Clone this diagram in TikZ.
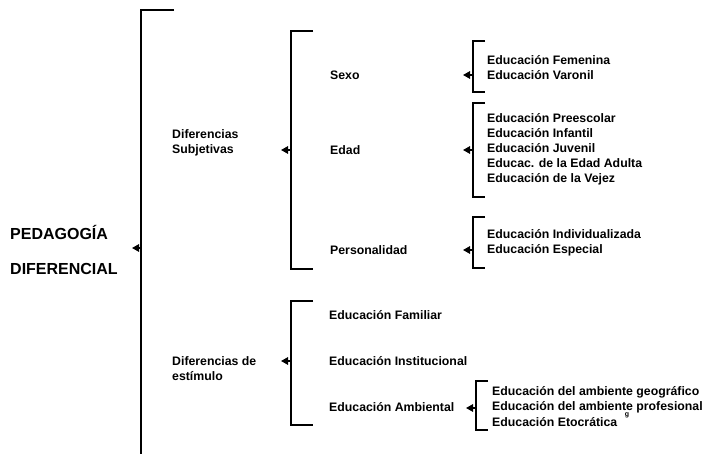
\documentclass[tikz,border=0pt]{standalone}
\usepackage{fontspec}
\setmainfont{Liberation Sans}
\usetikzlibrary{arrows.meta}

\begin{document}
\begin{tikzpicture}[x=1pt, y=-1pt,
    head/.style={anchor=west, inner sep=0pt, align=left, font=\fontsize{16}{35}\selectfont\bfseries},
    lbl/.style={anchor=west, inner sep=0pt, align=left, font=\fontsize{12.3}{15}\selectfont\bfseries},
    brace/.style={line width=1.3pt},
    tip/.style={-{Triangle[length=7pt, width=7.5pt]}, line width=1.3pt}
  ]
    \useasboundingbox (0,0) rectangle (709,454);

    % main title
    \node[head] (pd) at (10, 249.5) {PEDAGOG\'IA\\DIFERENCIAL};
    \draw[brace] (174, 10) -- (141, 10) -- (141, 454);
    \coordinate (pdb) at (141, 248);
    \draw[tip] (pdb) -- ++(-9, 0);

    % second level
    \node[lbl] (subj) at (172, 142.5) {Diferencias\\Subjetivas};
    \node[lbl] (estim) at (172, 368.5) {Diferencias de\\est\'imulo};
    \draw[brace] (313, 31) -- (291, 31) -- (291, 269) -- (313, 269);
    \draw[brace] (313, 301) -- (291, 301) -- (291, 425) -- (313, 425);
    \coordinate (subjb) at (291, 150);
    \coordinate (estimb) at (291, 361);
    \draw[tip] (subjb) -- ++(-10, 0);
    \draw[tip] (estimb) -- ++(-10, 0);

    % third level
    \node[lbl] (sexo) at (330, 75) {Sexo};
    \node[lbl] (edad) at (330, 150) {Edad};
    \node[lbl] (pers) at (330, 250) {Personalidad};
    \node[lbl] (fam) at (329, 315) {Educaci\'on Familiar};
    \node[lbl] (inst) at (329, 361) {Educaci\'on Institucional};
    \node[lbl] (amb) at (329, 407) {Educaci\'on Ambiental};

    \draw[brace] (485, 41) -- (473, 41) -- (473, 92) -- (485, 92);
    \draw[brace] (485, 103) -- (473, 103) -- (473, 197) -- (485, 197);
    \draw[brace] (485, 217) -- (473, 217) -- (473, 268) -- (485, 268);
    \draw[brace] (488, 381) -- (476, 381) -- (476, 430) -- (488, 430);
    \coordinate (sexob) at (473, 75);
    \coordinate (edadb) at (473, 150);
    \coordinate (persb) at (473, 250);
    \coordinate (ambb) at (476, 408);
    \draw[tip] (sexob) -- ++(-10, 0);
    \draw[tip] (edadb) -- ++(-10, 0);
    \draw[tip] (persb) -- ++(-10, 0);
    \draw[tip] (ambb) -- ++(-10, 0);

    % leaves
    \node[lbl] (sexol) at (487, 68) {Educaci\'on Femenina\\Educaci\'on Varonil};
    \node[lbl] (edadl) at (487, 149) {Educaci\'on Preescolar\\Educaci\'on Infantil\\Educaci\'on Juvenil\\Educac. de la Edad Adulta\\Educaci\'on de la Vejez};
    \node[lbl] (persl) at (487, 242.5) {Educaci\'on Individualizada\\Educaci\'on Especial};
    \node[lbl] (ambl) at (492, 399.5) {Educaci\'on del ambiente geogr\'afico\\Educaci\'on del ambiente profesional};
    \node[lbl] (etoc) at (492, 422) {Educaci\'on Etocr\'atica};
    \node[inner sep=0pt, font=\fontsize{7}{7}\selectfont\bfseries] (gmark) at (627, 415) {g};
\end{tikzpicture}
\end{document}
